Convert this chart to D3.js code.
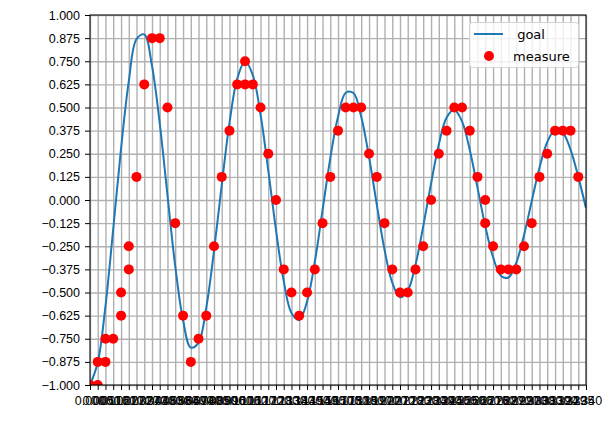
<!DOCTYPE html>
<html>
<head>
<meta charset="utf-8">
<title>goal vs measure</title>
<style>
    body { margin: 0; background: #ffffff; }
    svg { font-family: "DejaVu Sans", sans-serif; }
    .axis text { font-size: 12.5px; fill: #000; }
    .axis line { stroke: #000; stroke-width: 1; }
    .grid line { stroke: #b0b0b0; stroke-width: 1.4; }
    .legend text { font-size: 13px; white-space: pre; }
</style>
</head>
<body>
<svg width="616" height="438"></svg>
<script src="https://d3js.org/d3.v7.min.js"></script>
<script>
// sample times, one per x tick
var sampleTimes = [
    0.0000, 0.0053, 0.0106, 0.0159, 0.0213, 0.0266, 0.0319, 0.0372, 0.0425, 0.0478,
    0.0531, 0.0584, 0.0638, 0.0691, 0.0744, 0.0797, 0.0850, 0.0903, 0.0956, 0.1009,
    0.1063, 0.1116, 0.1169, 0.1222, 0.1275, 0.1328, 0.1381, 0.1434, 0.1488, 0.1541,
    0.1594, 0.1647, 0.1700, 0.1753, 0.1806, 0.1859, 0.1913, 0.1966, 0.2019, 0.2072,
    0.2125, 0.2178, 0.2231, 0.2284, 0.2338, 0.2391, 0.2444, 0.2497, 0.2550, 0.2603,
    0.2656, 0.2709, 0.2763, 0.2816, 0.2869, 0.2922, 0.2975, 0.3028, 0.3081, 0.3134,
    0.3188, 0.3241, 0.3294, 0.3347, 0.3400
];

// goal curve, read at every sample time
var goalValues = [
    -1.000, -0.878, -0.574, -0.158, 0.279, 0.643, 0.870, 0.895, 0.725, 0.414,
    0.026, -0.356, -0.650, -0.798, -0.771, -0.582, -0.275, 0.081, 0.415, 0.655,
    0.750, 0.675, 0.462, 0.160, -0.163, -0.438, -0.611, -0.649, -0.548, -0.334,
    -0.056, 0.225, 0.450, 0.580, 0.578, 0.450, 0.232, -0.025, -0.269, -0.447,
    -0.526, -0.490, -0.351, -0.143, 0.090, 0.300, 0.445, 0.488, 0.425, 0.272,
    0.068, -0.139, -0.309, -0.409, -0.419, -0.340, -0.191, -0.006, 0.174, 0.312,
    0.379, 0.364, 0.272, 0.125, -0.044
];

// measured points: which sample they sit on, and their value
var measureIndex = [
    0, 1, 1, 2, 2, 3, 4, 4, 5, 5,
    6, 7, 8, 9, 10, 11, 12, 13, 14, 15, 16, 17, 18, 19,
    20, 20, 21, 22, 23, 24, 25, 26, 27, 28, 29, 30,
    31, 32, 33, 34, 35, 36, 37, 38, 39, 40,
    41, 42, 43, 44, 45, 46, 47, 48, 49, 50,
    51, 51, 52, 53, 54, 55, 56, 57, 58, 59, 60, 61, 62, 63
];
var measureValue = [
    -1, -1, -0.875, -0.875, -0.75, -0.75, -0.625, -0.5, -0.375, -0.25,
    0.125, 0.625, 0.875, 0.875, 0.5, -0.125, -0.625, -0.875, -0.75, -0.625, -0.25, 0.125, 0.375, 0.625,
    0.625, 0.75, 0.625, 0.5, 0.25, 0, -0.375, -0.5, -0.625, -0.5, -0.375, -0.125,
    0.125, 0.375, 0.5, 0.5, 0.5, 0.25, 0.125, -0.125, -0.375, -0.5,
    -0.5, -0.375, -0.25, 0, 0.25, 0.375, 0.5, 0.5, 0.375, 0.125,
    0, -0.125, -0.25, -0.375, -0.375, -0.375, -0.25, -0.125, 0.125, 0.25, 0.375, 0.375, 0.375, 0.125
];

var yTicks = [-1, -0.875, -0.75, -0.625, -0.5, -0.375, -0.25, -0.125, 0,
              0.125, 0.25, 0.375, 0.5, 0.625, 0.75, 0.875, 1];
var legendLabels = [" goal", "measure"];

var svg = d3.select("svg");
var margin = {left: 90, right: 30, top: 15, bottom: 53};
var width = 616 - margin.left - margin.right;
var height = 438 - margin.top - margin.bottom;

var g = svg.append("g")
    .attr("transform", "translate(" + margin.left + "," + margin.top + ")");

var x = d3.scaleLinear().domain([0, 0.34]).range([0, width]);
var y = d3.scaleLinear().domain([-1, 1]).range([height, 0]);

// grid lines first so everything sits on top
g.append("g")
    .attr("class", "grid")
    .attr("transform", "translate(0," + height + ")")
    .call(d3.axisBottom(x).tickValues(sampleTimes).tickSize(-height).tickFormat(""))
    .call(function(s) { s.select(".domain").remove(); });
g.append("g")
    .attr("class", "grid")
    .call(d3.axisLeft(y).tickValues(yTicks).tickSize(-width).tickFormat(""))
    .call(function(s) { s.select(".domain").remove(); });

svg.append("clipPath").attr("id", "plotclip")
    .append("rect").attr("width", width).attr("height", height);

var plot = g.append("g").attr("clip-path", "url(#plotclip)");

// goal line
var line = d3.line()
    .x(function(d, i) { return x(sampleTimes[i]); })
    .y(function(d) { return y(d); })
    .curve(d3.curveCatmullRom);

plot.append("path")
    .datum(goalValues)
    .attr("d", line)
    .attr("fill", "none")
    .attr("stroke", "#1f77b4")
    .attr("stroke-width", 2);

// measure dots
plot.selectAll("circle")
    .data(measureValue)
    .enter()
    .append("circle")
    .attr("cx", function(d, i) { return x(sampleTimes[measureIndex[i]]); })
    .attr("cy", function(d) { return y(d); })
    .attr("r", 5)
    .attr("fill", "#ff0000");

// axes
g.append("g")
    .attr("class", "axis")
    .attr("transform", "translate(0," + height + ")")
    .call(d3.axisBottom(x).tickValues(sampleTimes).tickSize(5).tickSizeOuter(0)
        .tickPadding(6.5).tickFormat(d3.format(".3f")))
    .call(function(s) { s.select(".domain").remove(); });
g.append("g")
    .attr("class", "axis")
    .call(d3.axisLeft(y).tickValues(yTicks).tickSize(5).tickSizeOuter(0)
        .tickPadding(5).tickFormat(d3.format(".3f")))
    .call(function(s) { s.select(".domain").remove(); });

// frame
g.append("rect")
    .attr("width", width)
    .attr("height", height)
    .attr("fill", "none")
    .attr("stroke", "#000")
    .attr("stroke-width", 1);

// legend
var legend = svg.append("g").attr("class", "legend");
legend.append("rect")
    .attr("x", 469.5).attr("y", 22.5)
    .attr("width", 109).attr("height", 45)
    .attr("rx", 3)
    .attr("fill", "#fff").attr("fill-opacity", 0.8)
    .attr("stroke", "#d4d4d4");
legend.append("line")
    .attr("x1", 474).attr("x2", 503).attr("y1", 34).attr("y2", 34)
    .attr("stroke", "#1f77b4").attr("stroke-width", 2);
legend.append("circle")
    .attr("cx", 489).attr("cy", 56).attr("r", 5).attr("fill", "#ff0000");
legend.selectAll("text")
    .data(legendLabels)
    .enter()
    .append("text")
    .attr("x", 513)
    .attr("y", function(d, i) { return 38.5 + i * 22; })
    .text(function(d) { return d; });
</script>
</body>
</html>
